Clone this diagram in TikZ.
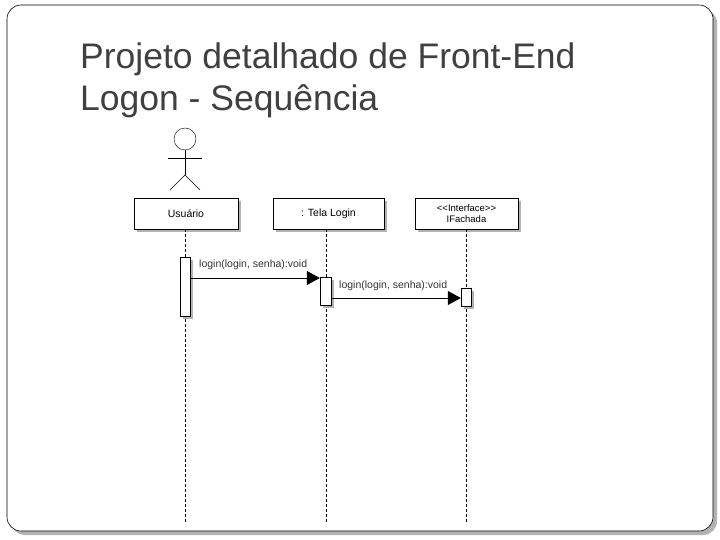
\documentclass[tikz,border=0pt]{standalone}
\usepackage{fontspec}
\setmainfont{Liberation Sans}
\usetikzlibrary{arrows.meta}
\begin{document}
\begin{tikzpicture}[x=1pt,y=-1pt,
  lbox/.style={draw,fill=white,inner sep=0pt},
  life/.style={dashed,line width=0.6pt,dash pattern=on 3pt off 2pt},
  act/.style={draw,fill=white,inner sep=0pt},
  msg/.style={line width=0.8pt,-{Triangle[length=13pt,width=14pt]}},
  lbl/.style={font=\fontsize{10.5}{12}\selectfont,anchor=west,inner sep=0pt,text=black!80}]
\useasboundingbox (0,0) rectangle (720,540);
\fill[gray!60] (11,9) [rounded corners=14pt] rectangle (717,535);
\draw[fill=white,rounded corners=14pt,line width=0.6pt] (7,5) rectangle (713,531);
\node[anchor=west,inner sep=0pt,font=\fontsize{35.5}{42}\selectfont,text=black!75,align=left] (title) at (80,80) {Projeto detalhado de Front-End\\Logon - Sequência};
% actor
\node[draw,circle,minimum size=22pt,inner sep=0pt] (head) at (185,139) {};
\coordinate (hip) at (185,175);
\draw (head.south) -- (hip);
\coordinate (la) at (168,158); \coordinate (ra) at (202,158);
\draw (la) -- (ra);
\coordinate (ll) at (170,190); \coordinate (rl) at (200,190);
\draw (ll) -- (hip) -- (rl);
% shadows
\foreach \a/\b in {134/238,273/384,415/518}{\fill[gray!60] (\a+3,201) rectangle (\b+3,232);}
\node[lbox,minimum width=104pt,minimum height=31pt,font=\fontsize{10.5}{12}\selectfont] (u) at (186,213.5) {Usuário};
\node[lbox,minimum width=111pt,minimum height=31pt,font=\fontsize{10.5}{12}\selectfont] (t) at (328.5,213.5) {: Tela Login};
\node[lbox,minimum width=103pt,minimum height=31pt,font=\fontsize{9.5}{11}\selectfont,align=center] (f) at (466.5,213.5) {<{}<Interface>{}>\\IFachada};
% lifelines
\coordinate (ue) at (185,522); \coordinate (te) at (326,522); \coordinate (fe) at (466,522);
\draw[life] (185,229) -- (ue);
\draw[life,line width=1pt] (326,229) -- (te);
\draw[life] (466,229) -- (fe);
% activations
\fill[gray!60] (183,260) rectangle (193,319);
\node[act,minimum width=10pt,minimum height=59pt] (ua) at (185,286.5) {};
\fill[gray!60] (323,280) rectangle (334,308);
\node[act,minimum width=11pt,minimum height=28pt] (ta) at (325.5,291) {};
\fill[gray!60] (464,291) rectangle (474,309);
\node[act,minimum width=10pt,minimum height=18pt] (fa) at (466,297) {};
\draw[msg] (ua.east |- 0,278) -- (ta.west |- 0,278);
\draw[msg] (ta.east |- 0,298) -- (fa.west |- 0,298);
\node[lbl] (l1) at (199,265) {login(login, senha):void};
\node[lbl] (l2) at (339,286) {login(login, senha):void};
\end{tikzpicture}
\end{document}
